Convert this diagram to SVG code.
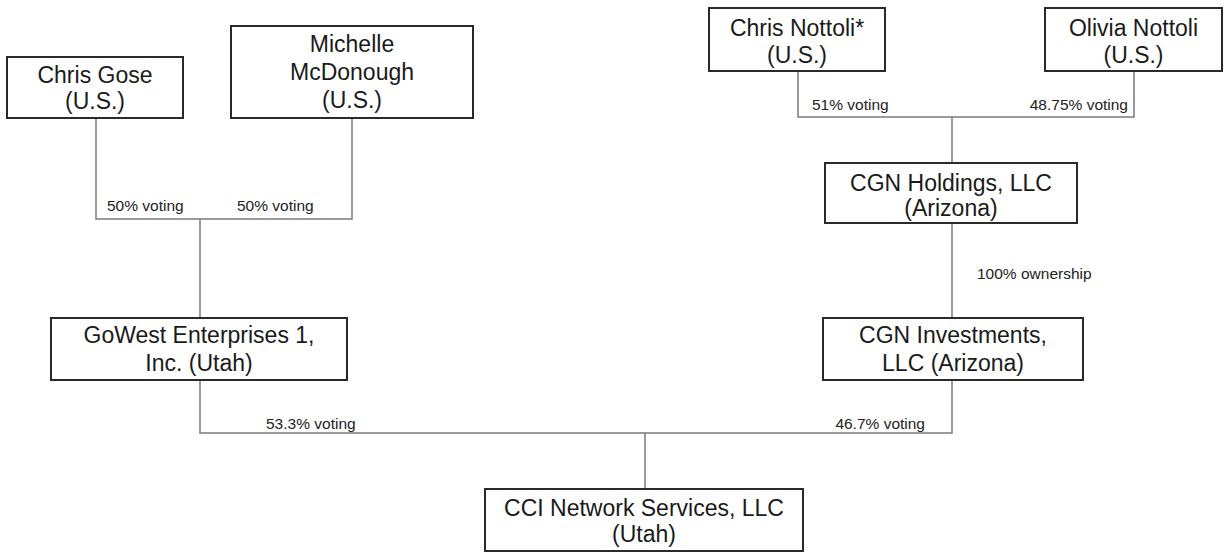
<svg xmlns="http://www.w3.org/2000/svg" width="1225" height="556" viewBox="0 0 1225 556">
<style>
.box{fill:#fff;stroke:#2a2a2a;stroke-width:2}
.n{font-family:"Liberation Sans",Arial,sans-serif;font-size:23px;fill:#1a1a1a;text-anchor:middle}
.lbl{font-family:"Liberation Sans",Arial,sans-serif;font-size:15.5px;fill:#222}
.c{fill:none;stroke:#7a7a7a;stroke-width:1.5}
</style>
<rect width="1225" height="556" fill="#fff"/>
<g id="connectors">
<polyline class="c" points="96,118 96,219 352,219 352,118"/>
<line class="c" x1="200" y1="219" x2="200" y2="318"/>
<polyline class="c" points="798,71 798,117 1134,117 1134,71"/>
<line class="c" x1="952" y1="117" x2="952" y2="163"/>
<line class="c" x1="952" y1="223" x2="952" y2="318"/>
<polyline class="c" points="200,380 200,433 952,433 952,380"/>
<line class="c" x1="645" y1="433" x2="645" y2="489"/>
<text class="lbl" x="107" y="211">50% voting</text>
<text class="lbl" x="237" y="211">50% voting</text>
<text class="lbl" x="812" y="110">51% voting</text>
<text class="lbl" x="1128" y="110" text-anchor="end">48.75% voting</text>
<text class="lbl" x="977" y="279">100% ownership</text>
<text class="lbl" x="266" y="429">53.3% voting</text>
<text class="lbl" x="925" y="429" text-anchor="end">46.7% voting</text>
</g>
<g id="chris-gose">
<rect class="box" x="7" y="57" width="176" height="61"/>
<text class="n" x="95" y="83">Chris Gose</text>
<text class="n" x="95" y="109">(U.S.)</text>
</g>
<g id="michelle-mcdonough">
<rect class="box" x="231" y="26" width="242" height="92"/>
<text class="n" x="352" y="52">Michelle</text>
<text class="n" x="352" y="80">McDonough</text>
<text class="n" x="352" y="108">(U.S.)</text>
</g>
<g id="chris-nottoli">
<rect class="box" x="709" y="8" width="176" height="63"/>
<text class="n" x="797" y="36">Chris Nottoli*</text>
<text class="n" x="797" y="63">(U.S.)</text>
</g>
<g id="olivia-nottoli">
<rect class="box" x="1045" y="8" width="177" height="63"/>
<text class="n" x="1133.5" y="36">Olivia Nottoli</text>
<text class="n" x="1133.5" y="63">(U.S.)</text>
</g>
<g id="cgn-holdings">
<rect class="box" x="825" y="163" width="252" height="60"/>
<text class="n" x="951" y="191">CGN Holdings, LLC</text>
<text class="n" x="951" y="216">(Arizona)</text>
</g>
<g id="gowest">
<rect class="box" x="51" y="318" width="296" height="62"/>
<text class="n" x="199" y="343">GoWest Enterprises 1,</text>
<text class="n" x="199" y="371">Inc. (Utah)</text>
</g>
<g id="cgn-investments">
<rect class="box" x="823" y="318" width="260" height="62"/>
<text class="n" x="953" y="343">CGN Investments,</text>
<text class="n" x="953" y="371">LLC (Arizona)</text>
</g>
<g id="cci">
<rect class="box" x="485" y="489" width="318" height="62"/>
<text class="n" x="644" y="516">CCI Network Services, LLC</text>
<text class="n" x="644" y="542">(Utah)</text>
</g>
</svg>
